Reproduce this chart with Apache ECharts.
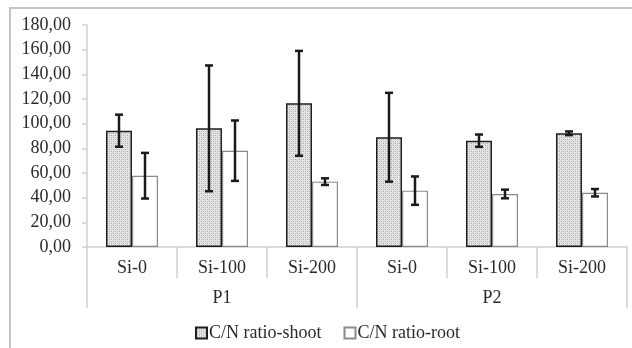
<!DOCTYPE html>
<html><head><meta charset="utf-8">
<script src="https://cdn.jsdelivr.net/npm/echarts@6/dist/echarts.min.js"></script>
<style>html,body{margin:0;padding:0;background:#fff}#c{width:632px;height:348px}</style>
</head><body><div id="c"></div>
<script>
const categories = ['Si-0','Si-100','Si-200','Si-0','Si-100','Si-200'];
const groups = ['P1','P2'];
const yTicks = {min:0, max:180, interval:20};
const shootVals = [94.3, 96.2, 116.5, 89.0, 86.2, 92.2];
const shootErr  = [13.0, 51.0, 42.5, 36.0, 5.0, 1.5];
const rootVals  = [57.8, 78.1, 53.0, 45.7, 43.0, 44.0];
const rootErr   = [18.5, 24.5, 2.7, 11.5, 3.5, 3.0];
const seriesNames = ['C/N ratio-shoot','C/N ratio-root'];

// pattern for shoot bars
const pc = document.createElement('canvas');
pc.width = 4; pc.height = 4;
const g = pc.getContext('2d');
g.fillStyle = '#e4e4e4'; g.fillRect(0,0,4,4);
g.fillStyle = '#a8a8a8'; g.fillRect(1,1,1,1); g.fillRect(3,3,1,1);
g.fillStyle = '#c4c4c4'; g.fillRect(1,3,1,1); g.fillRect(3,1,1,1);

const FONT = '"Liberation Serif","Times New Roman",serif';
const TXT = '#2a2a2a';
const AX = '#d0d0d0';
const BAR_W = 26;

function errSeries(vals, errs, dir){
  return {
    type:'custom', xAxisIndex:0, yAxisIndex:0, silent:true, z:5,
    data: vals.map((v,i)=>[i, v-errs[i], v+errs[i]]),
    renderItem: function(params, api){
      const lo = api.coord([api.value(0), api.value(1)]);
      const hi = api.coord([api.value(0), api.value(2)]);
      const x = lo[0] + dir*BAR_W/2;
      const cw = 4;
      const st = {stroke:'#1a1a1a', lineWidth:2.5};
      return {type:'group', children:[
        {type:'line', shape:{x1:x,y1:hi[1],x2:x,y2:lo[1]}, style:st},
        {type:'line', shape:{x1:x-cw,y1:hi[1],x2:x+cw,y2:hi[1]}, style:st},
        {type:'line', shape:{x1:x-cw,y1:lo[1],x2:x+cw,y2:lo[1]}, style:st}
      ]};
    }
  };
}

const chart = echarts.init(document.getElementById('c'), null, {renderer:'canvas'});
chart.setOption({
  animation:false,
  textStyle:{fontFamily:FONT},
  graphic:[{type:'rect', shape:{x:10,y:8,width:700,height:400}, style:{fill:null, stroke:'#c4c4c4', lineWidth:2}, z:-1}],
  grid:{left:87, right:5, top:25, bottom:101, containLabel:false},
  legend:{
    left:190, top:319, itemWidth:11, itemHeight:11, itemGap:22, icon:'rect',
    data:seriesNames,
    textStyle:{fontFamily:FONT, fontSize:18, color:TXT, padding:[0,0,0,-3]}
  },
  xAxis:[
    {type:'category', data:categories, position:'bottom', offset:0,
     axisLine:{lineStyle:{color:AX, width:1.5}},
     axisTick:{show:true, length:31, lineStyle:{color:AX, width:1.5}},
     axisLabel:{margin:12, fontFamily:FONT, fontSize:18, color:TXT, interval:0}},
    {type:'category', data:groups, position:'bottom', offset:0,
     axisLine:{show:false},
     axisTick:{show:true, length:61, lineStyle:{color:AX, width:1.5}},
     axisLabel:{margin:42, fontFamily:FONT, fontSize:18, color:TXT, interval:0}}
  ],
  yAxis:{
    type:'value', min:yTicks.min, max:yTicks.max, interval:yTicks.interval,
    axisLine:{show:true, lineStyle:{color:AX, width:1.5}},
    axisTick:{show:true, length:5, lineStyle:{color:AX, width:1.5}},
    splitLine:{show:false},
    axisLabel:{margin:16, fontFamily:FONT, fontSize:18, color:TXT,
      formatter:v=>v.toFixed(2).replace('.',',')}
  },
  series:[
    {name:seriesNames[0], type:'bar', xAxisIndex:0, data:shootVals, barWidth:BAR_W, barGap:'0%',
     itemStyle:{color:{image:pc, repeat:'repeat'}, borderColor:'#1e1e1e', borderWidth:1.5}},
    {name:seriesNames[1], type:'bar', xAxisIndex:0, data:rootVals, barWidth:BAR_W, barGap:'0%',
     itemStyle:{color:'#ffffff', borderColor:'#8a8a8a', borderWidth:1.2}},
    errSeries(shootVals, shootErr, -1),
    errSeries(rootVals, rootErr, 1)
  ]
});
</script></body></html>
